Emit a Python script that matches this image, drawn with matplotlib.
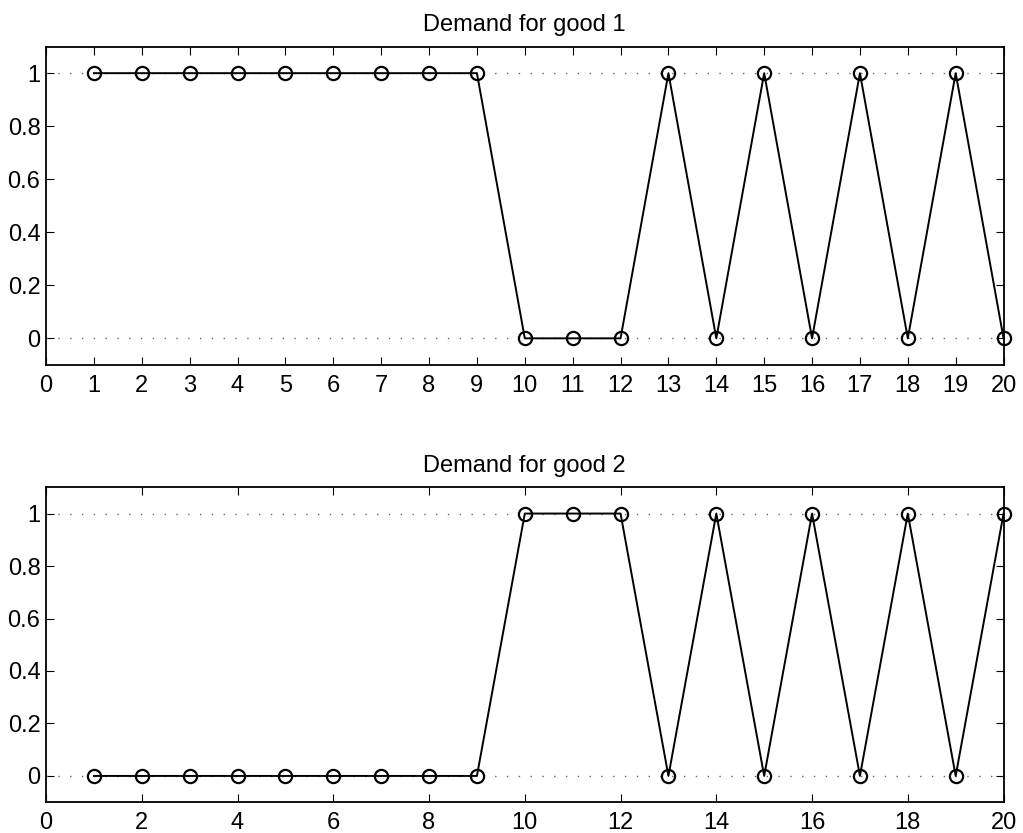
import matplotlib.pyplot as plt

plt.rcParams['font.family'] = ['Liberation Sans', 'DejaVu Sans']

periods = list(range(1, 21))
good1 = [1, 1, 1, 1, 1, 1, 1, 1, 1, 0, 0, 0, 1, 0, 1, 0, 1, 0, 1, 0]
good2 = [0, 0, 0, 0, 0, 0, 0, 0, 0, 1, 1, 1, 0, 1, 0, 1, 0, 1, 0, 1]
titles = ['Demand for good 1', 'Demand for good 2']
xticks_top = list(range(0, 21))
xticks_bottom = list(range(0, 21, 2))
yticks = [0, 0.2, 0.4, 0.6, 0.8, 1]
ytick_labels = ['0', '0.2', '0.4', '0.6', '0.8', '1']

fig = plt.figure(figsize=(10.23, 8.33), dpi=100)
ax1 = fig.add_axes([0.045, 0.562, 0.936, 0.382])
ax2 = fig.add_axes([0.045, 0.037, 0.936, 0.378])

for ax, data, title, xt in [(ax1, good1, titles[0], xticks_top),
                            (ax2, good2, titles[1], xticks_bottom)]:
    for yref in (0, 1):
        ax.plot([0, 20], [yref, yref], color='#666666', lw=1,
                linestyle=(0, (1, 7.5)))
    ax.plot(periods, data, '-o', color='black', lw=1.4, markersize=9.5,
            markerfacecolor='none', markeredgewidth=1.6, clip_on=False)
    ax.set_xlim(0, 20)
    ax.set_ylim(-0.1, 1.1)
    ax.set_xticks(xt)
    ax.set_yticks(yticks)
    ax.set_yticklabels(ytick_labels)
    ax.tick_params(direction='in', top=True, right=True, labelsize=17,
                   length=6, width=0.8)
    ax.tick_params(axis='x', pad=7)
    ax.tick_params(axis='y', pad=4)
    for s in ax.spines.values():
        s.set_linewidth(1.3)
    ax.set_title(title, fontsize=17, pad=11)

fig.savefig('out.png', dpi=100)
